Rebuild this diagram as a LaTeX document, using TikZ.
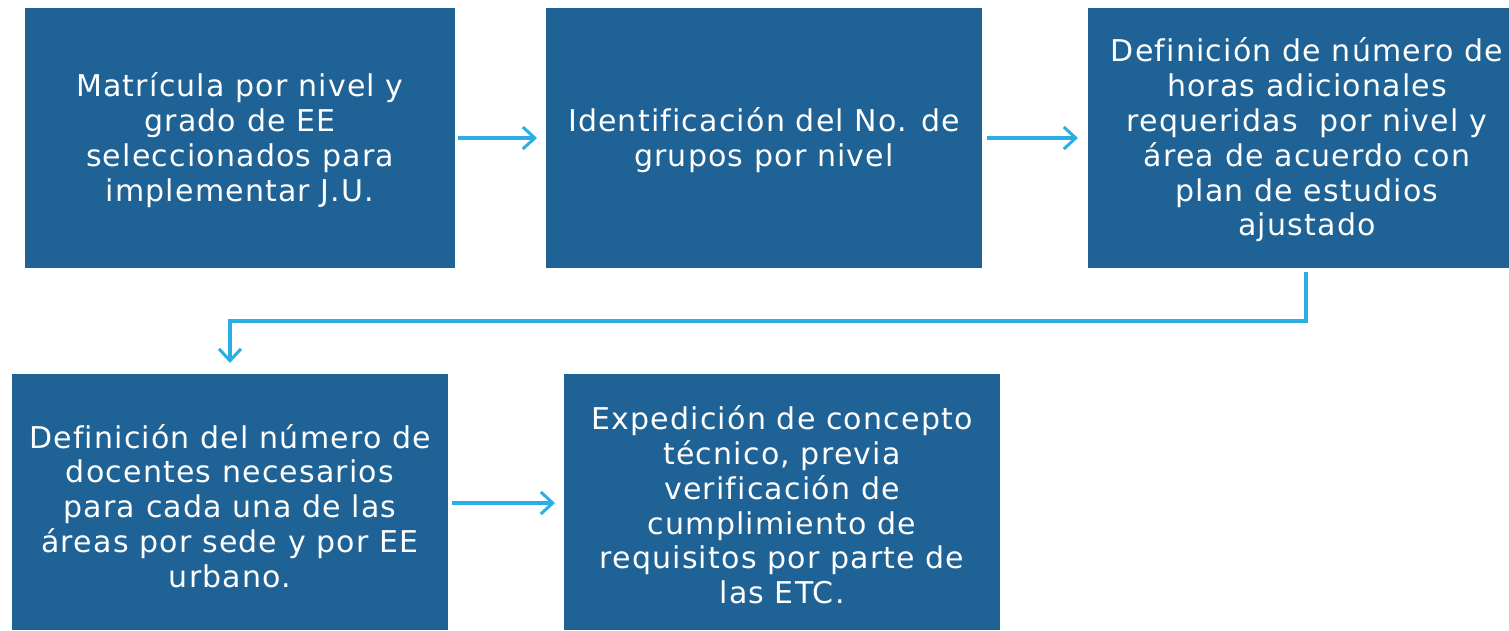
\documentclass[tikz,border=0pt]{standalone}
\usepackage{fontspec}
\setmainfont{DejaVu Sans}[LetterSpace=4,Ligatures={NoCommon}]
\usetikzlibrary{arrows.meta}
\definecolor{boxblue}{HTML}{1F6295}
\definecolor{arrblue}{HTML}{2AAEE3}
\begin{document}
\begin{tikzpicture}[x=1pt,y=-1pt,
  stepbox/.style={fill=boxblue, draw=none, text=white, align=center, inner sep=0pt,
    font=\fontsize{30}{34.8}\selectfont},
  conn/.style={draw=arrblue, line width=3.2pt, -{Straight Barb[length=12pt,width=22pt,line width=3pt]}}
]
\useasboundingbox (0,0) rectangle (1509,630);
\fill[boxblue] (25,8) rectangle (455,268);
\node[stepbox] (b1) at (240,140) {Matrícula por nivel y\\grado de EE\\seleccionados para\\implementar J.U.};
\fill[boxblue] (546,8) rectangle (982,268);
\node[stepbox] (b2) at (764,140) {Identificación del No. de\\grupos por nivel};
\fill[boxblue] (1088,8) rectangle (1509,268);
\node[stepbox] (b3) at (1307,140) {Definición de número de\\horas adicionales\\requeridas~ por nivel y\\área de acuerdo con\\plan de estudios\\ajustado};
\fill[boxblue] (12,374) rectangle (448,630);
\node[stepbox] (b4) at (230,506) {Definición del número de\\docentes necesarios\\para cada una de las\\áreas por sede y por EE\\urbano.};
\fill[boxblue] (564,374) rectangle (1000,630);
\node[stepbox] (b5) at (782,505) {Expedición de concepto\\técnico, previa\\verificación de\\cumplimiento de\\requisitos por parte de\\las ETC.};
\coordinate (a1s) at (458,138);
\coordinate (a1e) at (537,138);
\coordinate (a2s) at (987,138);
\coordinate (a2e) at (1078,138);
\coordinate (a3s) at (1306,272);
\coordinate (a3e) at (230,363);
\coordinate (a4s) at (452,503);
\coordinate (a4e) at (555,503);
\draw[conn] (a1s) -- (a1e);
\draw[conn] (a2s) -- (a2e);
\draw[conn] (a3s) -- (1306,321) -- (230,321) -- (a3e);
\draw[conn] (a4s) -- (a4e);
\end{tikzpicture}
\end{document}
